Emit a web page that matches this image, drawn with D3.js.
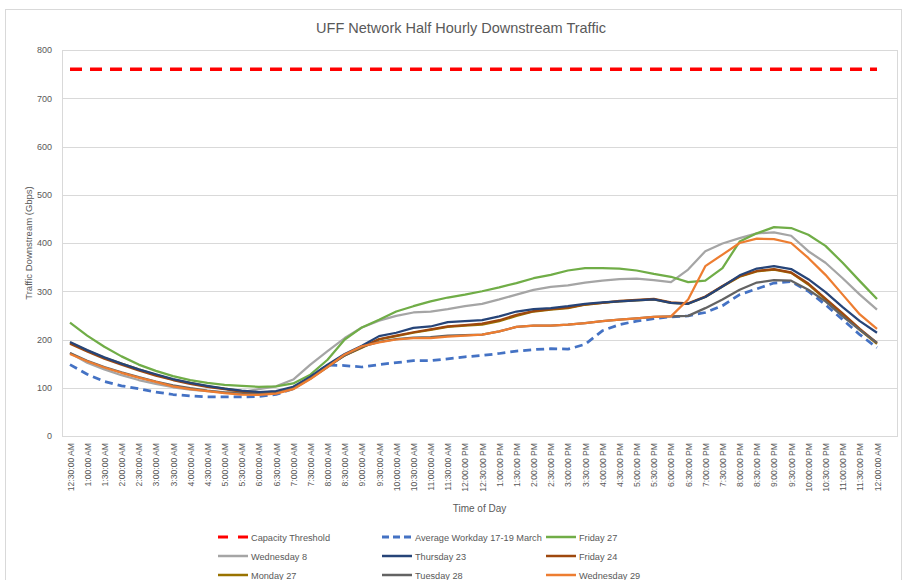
<!DOCTYPE html>
<html>
<head>
<meta charset="utf-8" />
<title>UFF Network Half Hourly Downstream Traffic</title>
<script src="https://d3js.org/d3.v7.min.js"></script>
<style>
  body { margin: 0; background: #fff; }
  text { font-family: "Liberation Sans", Arial, sans-serif; fill: #595959; }
  .grid line { stroke: #d9d9d9; stroke-width: 1px; }
  .series { fill: none; stroke-linejoin: round; stroke-linecap: butt; }
</style>
</head>
<body>
<script>
// time of day labels (48 half hours)
var times = ["12:30:00 AM","1:00:00 AM","1:30:00 AM","2:00:00 AM","2:30:00 AM","3:00:00 AM",
  "3:30:00 AM","4:00:00 AM","4:30:00 AM","5:00:00 AM","5:30:00 AM","6:00:00 AM","6:30:00 AM",
  "7:00:00 AM","7:30:00 AM","8:00:00 AM","8:30:00 AM","9:00:00 AM","9:30:00 AM","10:00:00 AM",
  "10:30:00 AM","11:00:00 AM","11:30:00 AM","12:00:00 PM","12:30:00 PM","1:00:00 PM","1:30:00 PM",
  "2:00:00 PM","2:30:00 PM","3:00:00 PM","3:30:00 PM","4:00:00 PM","4:30:00 PM","5:00:00 PM",
  "5:30:00 PM","6:00:00 PM","6:30:00 PM","7:00:00 PM","7:30:00 PM","8:00:00 PM","8:30:00 PM",
  "9:00:00 PM","9:30:00 PM","10:00:00 PM","10:30:00 PM","11:00:00 PM","11:30:00 PM","12:00:00 AM"];

var yTicks = [0, 100, 200, 300, 400, 500, 600, 700, 800];

var capacity = times.map(function() { return 760; });

var avgWorkday = [148,128,113,104,98,91,86,83,81,81,81,82,86,98,122,147,146,143,148,152,156,156,160,164,
  167,171,176,179,181,180,190,218,231,238,243,247,249,256,270,293,305,317,320,300,272,241,210,183];

var friday27 = [235,208,185,165,148,135,124,116,110,106,104,102,103,109,127,158,200,225,241,258,269,279,287,293,
  300,308,317,327,334,343,348,348,347,343,336,330,319,322,348,403,420,433,431,417,394,359,321,284];

var wednesday8 = [172,152,138,126,116,108,101,96,93,91,91,97,103,117,148,176,203,225,239,249,256,258,263,269,
  274,283,293,303,309,312,318,322,325,326,323,319,345,383,399,410,420,422,415,383,359,327,293,262];

var thursday23 = [195,178,163,150,138,128,118,110,104,98,94,91,93,102,123,148,170,187,207,214,224,227,236,238,
  240,248,258,263,265,269,274,277,279,281,283,276,274,288,310,333,347,352,346,325,298,267,238,214];

var friday24 = [191,175,160,148,136,125,116,108,102,97,92,89,91,99,121,146,168,184,201,208,215,221,227,230,
  233,240,251,259,263,266,273,276,280,282,284,277,275,289,311,331,342,346,339,316,285,254,222,193];

var monday27 = [193,177,162,150,138,127,117,110,103,98,93,90,92,100,120,145,167,183,200,207,214,220,226,229,
  231,238,249,258,262,265,272,276,279,281,283,276,274,288,310,330,341,345,338,314,283,252,220,191];

var tuesday28 = [172,156,143,132,122,113,105,99,94,90,88,87,89,98,119,143,167,185,195,201,204,205,208,209,
  210,217,226,229,229,231,234,238,241,244,247,248,249,265,283,303,318,323,322,303,279,248,220,193];

var wednesday29 = [170,155,142,131,121,112,103,97,93,89,86,85,88,97,118,143,169,186,194,200,203,203,206,208,
  210,217,226,229,229,231,234,238,241,244,247,248,283,352,376,400,409,408,400,369,334,293,252,222];

var series = [
  {name: "Capacity Threshold", values: capacity, color: "#ff0000", width: 3.5, dash: "12,8", legendDash: "10,10"},
  {name: "Average Workday 17-19 March", values: avgWorkday, color: "#4472c4", width: 2.75, dash: "8,5", legendDash: "7,4"},
  {name: "Friday 27", values: friday27, color: "#70ad47", width: 2.25},
  {name: "Wednesday 8", values: wednesday8, color: "#a5a5a5", width: 2.25},
  {name: "Thursday 23", values: thursday23, color: "#264478", width: 2.25},
  {name: "Friday 24", values: friday24, color: "#9e480e", width: 2.25},
  {name: "Monday 27", values: monday27, color: "#997300", width: 2.25},
  {name: "Tuesday 28", values: tuesday28, color: "#636363", width: 2.25},
  {name: "Wednesday 29", values: wednesday29, color: "#ed7d31", width: 2.25}
];

var W = 903, H = 580;
var plot = {left: 62, right: 897, top: 50, bottom: 436};

var svg = d3.select("body").append("svg")
  .attr("width", W)
  .attr("height", H);

// chart frame
svg.append("rect")
  .attr("x", 5.5).attr("y", 9.5)
  .attr("width", 896).attr("height", 580)
  .attr("fill", "none").attr("stroke", "#d9d9d9");

var x = d3.scalePoint().domain(times).range([70, 877]);
var y = d3.scaleLinear().domain([0, 800]).range([plot.bottom, plot.top]);

// title
svg.append("text")
  .attr("x", 461).attr("y", 33)
  .attr("text-anchor", "middle")
  .style("font-size", "14.5px")
  .text("UFF Network Half Hourly Downstream Traffic");

// gridlines
svg.append("g").attr("class", "grid")
  .selectAll("line").data(yTicks).enter().append("line")
  .attr("x1", plot.left).attr("x2", plot.right)
  .attr("y1", function(d) { return Math.round(y(d)) + 0.5; })
  .attr("y2", function(d) { return Math.round(y(d)) + 0.5; });

// plot area border
svg.append("rect")
  .attr("x", plot.left + 0.5).attr("y", Math.round(y(800)) + 0.5)
  .attr("width", plot.right - plot.left).attr("height", Math.round(y(0)) - Math.round(y(800)))
  .attr("fill", "none").attr("stroke", "#d9d9d9");

// y axis
var yAxis = svg.append("g")
  .attr("transform", "translate(" + (plot.left - 10) + ",0)")
  .call(d3.axisLeft(y).tickValues(yTicks).tickSize(0).tickPadding(0));
yAxis.select(".domain").remove();
yAxis.selectAll("text").style("font-size", "9px").attr("fill", "#595959");

// x axis
var xAxis = svg.append("g")
  .attr("transform", "translate(0," + plot.bottom + ")")
  .call(d3.axisBottom(x).tickSize(0).tickPadding(0));
xAxis.select(".domain").remove();
xAxis.selectAll("text")
  .style("font-size", "8.6px")
  .attr("fill", "#6b6b6b")
  .attr("text-anchor", "end")
  .attr("dy", null)
  .attr("transform", "translate(3,7) rotate(-90)");

// axis titles
svg.append("text")
  .attr("transform", "translate(32," + ((plot.top + plot.bottom) / 2) + ") rotate(-90)")
  .attr("text-anchor", "middle")
  .style("font-size", "9.5px")
  .text("Traffic Downstream (Gbps)");

svg.append("text")
  .attr("x", (plot.left + plot.right) / 2).attr("y", 512)
  .attr("text-anchor", "middle")
  .style("font-size", "10px")
  .text("Time of Day");

// lines
var line = d3.line()
  .x(function(d, i) { return x(times[i]); })
  .y(function(d) { return y(d); });

var order = [0, 3, 2, 1, 6, 5, 4, 7, 8];
order.forEach(function(k) {
  var s = series[k];
  svg.append("path")
    .datum(s.values)
    .attr("class", "series")
    .attr("stroke", s.color)
    .attr("stroke-width", s.width)
    .attr("stroke-dasharray", s.dash || null)
    .attr("d", line);
});

// legend
var legCols = [218, 382, 546];
var legRows = [537, 556, 575];
var legend = svg.append("g").selectAll("g").data(series).enter().append("g")
  .attr("transform", function(d, i) {
    return "translate(" + legCols[i % 3] + "," + legRows[Math.floor(i / 3)] + ")";
  });
legend.append("line")
  .attr("x1", 0).attr("x2", 30).attr("y1", 0).attr("y2", 0)
  .attr("stroke", function(d) { return d.color; })
  .attr("stroke-width", function(d) { return d.dash ? 3 : 2.5; })
  .attr("stroke-dasharray", function(d) { return d.legendDash || null; });
legend.append("text")
  .attr("x", 33).attr("y", 3.5)
  .style("font-size", "9.2px")
  .text(function(d) { return d.name; });
</script>
</body>
</html>
